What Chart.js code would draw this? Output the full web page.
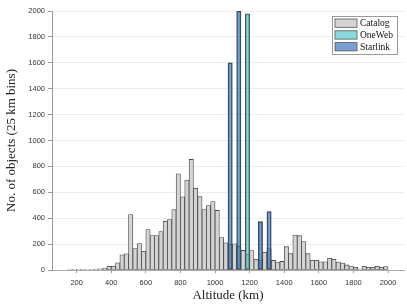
<!DOCTYPE html>
<html>
<head>
<meta charset="utf-8">
<script src="https://cdn.jsdelivr.net/npm/chart.js@4.4.0/dist/chart.umd.min.js"></script>
<style>
  html, body { margin: 0; padding: 0; background: #fff; }
</style>
</head>
<body>
<canvas id="altChart" width="407" height="307"></canvas>
<script>
// Lower edge of every 25 km altitude bin (km)
const binWidth = 25;
const binStarts = [
  150, 175, 200, 225, 250, 275, 300, 325, 350, 375,
  400, 425, 450, 475, 500, 525, 550, 575, 600, 625,
  650, 675, 700, 725, 750, 775, 800, 825, 850, 875,
  900, 925, 950, 975, 1000, 1025, 1050, 1075, 1100, 1125,
  1150, 1175, 1200, 1225, 1250, 1275, 1300, 1325, 1350, 1375,
  1400, 1425, 1450, 1475, 1500, 1525, 1550, 1575, 1600, 1625,
  1650, 1675, 1700, 1725, 1750, 1775, 1800, 1825, 1850, 1875,
  1900, 1925, 1950, 1975
];
const catalogCounts = [
  2, 2, 3, 3, 4, 5, 8, 10, 14, 28,
  28, 56, 117, 125, 428, 165, 204, 145, 312, 266,
  266, 297, 377, 390, 467, 743, 565, 694, 854, 632,
  566, 466, 498, 528, 460, 250, 210, 198, 203, 182,
  151, 121, 150, 83, 73, 137, 166, 74, 62, 66,
  180, 126, 270, 265, 220, 126, 75, 75, 64, 64,
  90, 82, 62, 54, 39, 31, 21, 10, 28, 21,
  21, 28, 21, 26
];
const onewebBins = [1175];
const onewebCounts = [1978];
const starlinkBins = [1075, 1125, 1250, 1300];
const starlinkCounts = [1600, 2000, 374, 451];

// tick labels
const xTicks = [200, 400, 600, 800, 1000, 1200, 1400, 1600, 1800, 2000];
const yTicks = [0, 200, 400, 600, 800, 1000, 1200, 1400, 1600, 1800, 2000];

function toPoints(starts, counts) {
  return starts.map((s, i) => ({ x: s + binWidth / 2, y: counts[i] }));
}

const tickFont = { family: '"Liberation Sans", Arial, sans-serif', size: 7.5 };
const titleFont = { family: '"Liberation Serif", "DejaVu Serif", serif', size: 13 };

// legend drawn inside the plot, top right, with a thin frame
const boxLegend = {
  id: 'boxLegend',
  afterDraw(chart) {
    const c = chart.ctx;
    const area = chart.chartArea;
    const x0 = area.right - 72, y0 = area.top + 5, w = 65, h = 38;
    c.save();
    c.fillStyle = '#fff';
    c.strokeStyle = '#9a9a9a';
    c.lineWidth = 1;
    c.fillRect(x0, y0, w, h);
    c.strokeRect(x0 + 0.5, y0 + 0.5, w, h);
    c.font = '9.5px "Liberation Serif", "DejaVu Serif", serif';
    c.textBaseline = 'middle';
    chart.data.datasets.forEach((ds, row) => {
      const py = y0 + 3 + row * 11.8;
      c.fillStyle = ds.backgroundColor;
      c.fillRect(x0 + 3, py, 22, 8.3);
      c.strokeStyle = '#555';
      c.lineWidth = 0.8;
      c.strokeRect(x0 + 3, py, 22, 8.3);
      c.fillStyle = '#111';
      c.fillText(ds.label, x0 + 28, py + 4.4);
    });
    c.restore();
  }
};

const ctx = document.getElementById('altChart').getContext('2d');
const altChart = new Chart(ctx, {
  type: 'bar',
  data: {
    datasets: [
      {
        label: 'Catalog',
        data: toPoints(binStarts, catalogCounts),
        backgroundColor: '#d4d4d4',
        borderColor: '#444',
        borderWidth: 0.8,
        order: 3
      },
      {
        label: 'OneWeb',
        data: toPoints(onewebBins, onewebCounts),
        backgroundColor: 'rgba(60,188,198,0.6)',
        borderColor: '#444',
        borderWidth: 0.8,
        order: 1
      },
      {
        label: 'Starlink',
        data: toPoints(starlinkBins, starlinkCounts),
        backgroundColor: 'rgba(30,95,175,0.6)',
        borderColor: '#444',
        borderWidth: 0.8,
        order: 2
      }
    ]
  },
  options: {
    responsive: false,
    animation: false,
    layout: { padding: { top: 11, right: 3, left: 0, bottom: 0 } },
    datasets: {
      bar: {
        grouped: false,
        barPercentage: 1,
        categoryPercentage: 1,
        borderSkipped: false
      }
    },
    plugins: {
      legend: { display: false },
      tooltip: { enabled: false }
    },
    scales: {
      x: {
        type: 'linear',
        min: 57.5,
        max: 2092.5,
        offset: false,
        afterBuildTicks: s => { s.ticks = xTicks.map(v => ({ value: v })); },
        ticks: { font: tickFont, color: '#333', padding: 5, maxRotation: 0, autoSkip: false,
                 callback: v => String(v) },
        grid: { display: true, offset: false, drawOnChartArea: false, drawTicks: true, tickLength: 3, tickColor: '#999' },
        border: { color: '#aaa', width: 1 },
        title: { display: true, text: 'Altitude (km)', font: titleFont, color: '#222', padding: { top: 0, bottom: 4 } },
        afterFit: s => { s.height = 37; }
      },
      y: {
        min: 0,
        max: 2000,
        afterBuildTicks: s => { s.ticks = yTicks.map(v => ({ value: v })); },
        ticks: { font: tickFont, color: '#333', padding: 3, callback: v => String(v) },
        grid: { color: '#ececec', tickColor: '#999', tickLength: 4 },
        border: { color: '#999', width: 1 },
        title: { display: true, text: 'No. of objects (25 km bins)', font: titleFont, color: '#222', padding: { top: 4, bottom: 0 } },
        afterFit: s => { s.width = 52; }
      }
    }
  },
  plugins: [boxLegend]
});
</script>
</body>
</html>
